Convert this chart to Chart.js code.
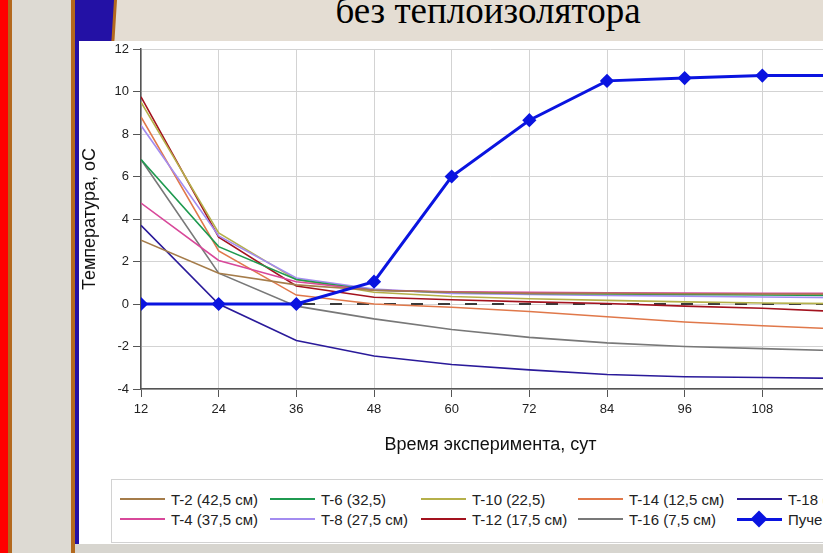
<!DOCTYPE html>
<html lang="ru">
<head>
<meta charset="utf-8">
<title>без теплоизолятора</title>
<script src="https://cdn.jsdelivr.net/npm/chart.js@4.4.1/dist/chart.umd.min.js"></script>
<style>
  html, body { margin: 0; padding: 0; }
  body {
    position: relative;
    width: 823px;
    height: 553px;
    overflow: hidden;
    background: #e4ddd3;
    font-family: Arial, "Liberation Sans", sans-serif;
  }
  #deco { position: absolute; left: 0; top: 0; }
  #title {
    position: absolute;
    left: 0;
    top: -8px;
    width: 976px;
    text-align: center;
    font: 37px/37px "Liberation Serif", "Times New Roman", serif;
    color: #000;
  }
  #frame {
    position: absolute;
    left: 79px;
    top: 41px;
    width: 800px;
    height: 503px;
    background: #fff;
  }
  #bottom {
    position: absolute;
    left: 75px;
    top: 544px;
    width: 800px;
    height: 9px;
    background: #d7d5cf;
  }
  #chart { position: absolute; left: 0; top: 0; }
  #legend {
    position: absolute;
    left: 32px;
    top: 438px;
    width: 800px;
    height: 62px;
    border: 1px solid #d2d2d2;
    background: #fff;
  }
  .item {
    position: absolute;
    height: 18px;
    display: flex;
    align-items: center;
    white-space: nowrap;
    font-size: 15px;
    color: #222;
  }
  .swatch { position: relative; width: 45px; height: 18px; margin-right: 6px; }
  .swatch .line { position: absolute; left: 0; width: 45px; }
  .swatch .mark {
    position: absolute;
    left: 16px;
    top: 3px;
    width: 12px;
    height: 12px;
    transform: rotate(45deg);
  }
</style>
</head>
<body>
<svg id="deco" width="823" height="553">
  <rect x="0" y="0" width="8" height="553" fill="#ff0000"/>
  <rect x="8" y="0" width="4" height="553" fill="#b3691e"/>
  <rect x="12" y="0" width="59" height="553" fill="#dddad3"/>
  <rect x="71" y="0" width="4" height="553" fill="#b3691e"/>
  <polygon points="75,0 117,0 82,553 75,553" fill="#b3691e"/>
  <polygon points="75,0 114,0 79,553 75,553" fill="#2311a5"/>
</svg>
<div id="title">без теплоизолятора</div>
<div id="bottom"></div>
<div id="frame">
  <canvas id="chart" width="781" height="434"></canvas>
  <div id="legend"></div>
</div>

<script>
// Days of the experiment
const days = [12, 24, 36, 48, 60, 72, 84, 96, 108, 120];

// Temperatures by sensor depth, °C
const t2 = [3.0, 1.45, 0.9, 0.65, 0.55, 0.5, 0.5, 0.48, 0.47, 0.46];
const t4 = [4.75, 2.05, 1.05, 0.65, 0.58, 0.55, 0.53, 0.52, 0.5, 0.5];
const t6 = [6.8, 2.7, 1.15, 0.65, 0.55, 0.5, 0.47, 0.45, 0.42, 0.4];
const t8 = [8.4, 3.2, 1.22, 0.7, 0.5, 0.45, 0.4, 0.37, 0.33, 0.3];
const t10 = [9.5, 3.35, 1.15, 0.55, 0.35, 0.25, 0.17, 0.1, 0.05, 0.02];
const t12 = [9.75, 3.15, 0.85, 0.32, 0.2, 0.1, 0.02, -0.1, -0.2, -0.36];
const t14 = [8.8, 2.5, 0.42, 0.0, -0.15, -0.35, -0.6, -0.85, -1.02, -1.18];
const t16 = [6.8, 1.45, -0.1, -0.7, -1.2, -1.57, -1.83, -2.0, -2.1, -2.2];
const t18 = [3.7, 0.0, -1.72, -2.45, -2.85, -3.1, -3.32, -3.42, -3.46, -3.5];
const heave = [0, 0, 0, 1.05, 6.0, 8.65, 10.5, 10.63, 10.75, 10.75];
const zeroLine = [0, 0, 0, 0, 0, 0, 0, 0, 0, 0];

const xTicks = [12, 24, 36, 48, 60, 72, 84, 96, 108, 120];
const yTicks = [-4, -2, 0, 2, 4, 6, 8, 10, 12];

const xTitle = "Время эксперимента, сут";
const yTitle = "Температура, оС";

const toPoints = (values) => values.map((v, i) => ({ x: days[i], y: v }));

// Thin temperature curves
const thin = (label, values, color) => ({
  label,
  data: toPoints(values),
  borderColor: color,
  backgroundColor: color,
  borderWidth: 1.6,
  pointRadius: 0,
  tension: 0,
  order: 1,
});

const datasets = [
  thin("T-2 (42,5 см)", t2, "#a57c4a"),
  thin("T-4 (37,5 см)", t4, "#d8489a"),
  thin("T-6 (32,5)", t6, "#1f9a50"),
  thin("T-8 (27,5 см)", t8, "#a38cf0"),
  thin("T-10 (22,5)", t10, "#b5b04a"),
  thin("T-12 (17,5 см)", t12, "#a3121e"),
  thin("T-14 (12,5 см)", t14, "#e0784a"),
  thin("T-16 (7,5 см)", t16, "#787878"),
  thin("T-18 (2,5 см)", t18, "#2a1a9a"),
  {
    label: "Пучение",
    data: toPoints(heave),
    borderColor: "#0a14e0",
    backgroundColor: "#0a14e0",
    borderWidth: 3,
    pointStyle: "rectRot",
    pointRadius: 5,
    tension: 0,
    order: 0,
  },
  {
    label: "zero",
    data: toPoints(zeroLine),
    borderColor: "#3a3a3a",
    borderWidth: 2,
    borderDash: [12, 15],
    pointRadius: 0,
    order: 2,
    hideInLegend: true,
  },
];

const gridStyle = { color: "#d3d3d3", tickColor: "#555", tickLength: 8, lineWidth: 1 };
const borderStyle = { color: "#555", width: 1.5 };

const chart = new Chart(document.getElementById("chart"), {
  type: "line",
  data: { datasets },
  options: {
    responsive: false,
    animation: false,
    layout: { padding: { top: 6, right: 20, left: 0, bottom: 0 } },
    plugins: { legend: { display: false }, tooltip: { enabled: false } },
    scales: {
      x: {
        type: "linear",
        min: 12,
        max: 120,
        afterBuildTicks: (s) => { s.ticks = xTicks.map((v) => ({ value: v })); },
        afterFit: (s) => { s.height = 86; s.paddingLeft = 0; s.paddingRight = 0; },
        grid: gridStyle,
        border: borderStyle,
        ticks: { color: "#222", font: { size: 13 }, padding: 5, maxRotation: 0, autoSkip: false },
        title: { display: true, text: xTitle, color: "#111", font: { size: 18 }, padding: { top: 0, bottom: 19 } },
      },
      y: {
        min: -4,
        max: 12,
        afterBuildTicks: (s) => { s.ticks = yTicks.map((v) => ({ value: v })); },
        afterFit: (s) => { s.width = 62; s.paddingTop = 0; s.paddingBottom = 0; },
        grid: gridStyle,
        border: borderStyle,
        ticks: { color: "#222", font: { size: 13 }, padding: 4 },
        title: { display: true, text: yTitle, color: "#111", font: { size: 18 }, padding: 0 },
      },
    },
  },
});

// Legend in two rows, filled column by column
const legend = document.getElementById("legend");
const colX = [8, 158, 309, 466, 625];
const rowY = [10, 30];

chart.data.datasets
  .filter((ds) => !ds.hideInLegend)
  .forEach((ds, i) => {
    const item = document.createElement("div");
    item.className = "item";
    item.style.left = colX[Math.floor(i / 2)] + "px";
    item.style.top = rowY[i % 2] + "px";

    const swatch = document.createElement("span");
    swatch.className = "swatch";
    const line = document.createElement("span");
    line.className = "line";
    const lw = ds.borderWidth >= 3 ? 3 : 2;
    line.style.height = lw + "px";
    line.style.top = (9 - lw / 2) + "px";
    line.style.background = ds.borderColor;
    swatch.appendChild(line);

    if (ds.pointStyle === "rectRot") {
      const mark = document.createElement("span");
      mark.className = "mark";
      mark.style.background = ds.borderColor;
      swatch.appendChild(mark);
    }

    const text = document.createElement("span");
    text.textContent = ds.label;

    item.appendChild(swatch);
    item.appendChild(text);
    legend.appendChild(item);
  });
</script>
</body>
</html>
